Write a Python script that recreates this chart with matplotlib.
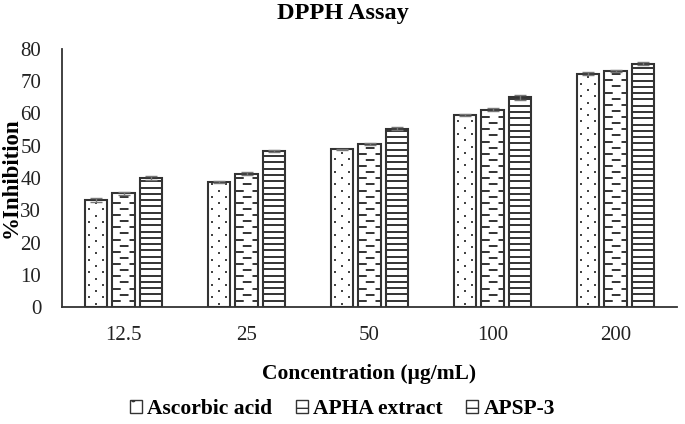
import numpy as np
import matplotlib.pyplot as plt
from matplotlib.patches import Patch

plt.rcParams['font.family'] = ['Liberation Serif', 'DejaVu Serif']
plt.rcParams['hatch.color'] = '#333333'
plt.rcParams['hatch.linewidth'] = 1.0

concentrations = ['12.5', '25', '50', '100', '200']
series = ['Ascorbic acid', 'APHA extract', 'APSP-3']
ascorbic = [33.2, 38.9, 48.9, 59.4, 72.4]
apha = [35.3, 41.3, 50.5, 61.2, 73.2]
apsp = [40.0, 48.3, 55.3, 65.0, 75.5]
ascorbic_err = [0.5, 0.3, 0.2, 0.3, 0.4]
apha_err = [0.5, 0.5, 0.4, 0.4, 0.3]
apsp_err = [0.5, 0.3, 0.4, 0.7, 0.6]

fig = plt.figure(figsize=(6.85, 4.24), dpi=100)
ax = fig.add_axes([62 / 685, 1 - 307 / 424, 615 / 685, 258 / 424])

x = np.arange(len(concentrations))
w = 0.18
pitch = 0.224
edge = '#333333'

b1 = ax.bar(x - pitch, ascorbic, w, color='white', edgecolor=edge, linewidth=1.5)
b2 = ax.bar(x, apha, w, color='white', edgecolor=edge, linewidth=1.5)
b3 = ax.bar(x + pitch, apsp, w, color='white', edgecolor=edge, linewidth=1.5)

# dotted fill (staggered rows)
for rect in b1:
    x0, bw, h = rect.get_x(), rect.get_width(), rect.get_height()
    ys = np.arange(1.0, h - 0.4, 1.95)
    for k, yy in enumerate(ys):
        if k % 2 == 0:
            xs = [x0 + bw * 0.5]
        else:
            xs = [x0 + bw * 0.2, x0 + bw * 0.8]
        ax.plot(xs, [yy] * len(xs), 's', ms=1.6, color='#444444', mew=0, zorder=3)

# dashed fill
for rect in b2:
    x0, bw, h = rect.get_x(), rect.get_width(), rect.get_height()
    ys = np.arange(1.9, h - 0.5, 1.9)
    for k, yy in enumerate(ys):
        off = 0 if k % 2 == 0 else 5
        ax.plot([x0, x0 + bw], [yy, yy], color=edge, lw=1.4,
                linestyle=(off, (4.5, 4.5)), solid_capstyle='butt', zorder=3)

# horizontal line fill
for rect in b3:
    x0, bw, h = rect.get_x(), rect.get_width(), rect.get_height()
    for yy in np.arange(1.95, h - 0.3, 1.95):
        ax.plot([x0, x0 + bw], [yy, yy], color=edge, lw=1.4, zorder=3)

for vals, errs, dx in [(ascorbic, ascorbic_err, -pitch), (apha, apha_err, 0), (apsp, apsp_err, pitch)]:
    ax.errorbar(x + dx, vals, yerr=errs, fmt='none', ecolor='#777777',
                elinewidth=1, capsize=4, capthick=1, zorder=4)

ax.set_xlim(-0.5, len(concentrations) - 0.5)
ax.set_ylim(0, 80)
ax.set_yticks(range(0, 81, 10))
ax.set_xticks(x)
ax.set_xticklabels(concentrations)
ax.tick_params(axis='both', length=0, labelsize=15, colors='#222222')
ax.tick_params(axis='x', pad=14)
ax.tick_params(axis='y', pad=15)
for s in ['top', 'right']:
    ax.spines[s].set_visible(False)
for s in ['left', 'bottom']:
    ax.spines[s].set_color('#333333')
    ax.spines[s].set_linewidth(1.3)

ax.set_xlabel('Concentration (μg/mL)', fontsize=15.5, fontweight='bold')
ax.xaxis.set_label_coords(0.5, (307 - 374) / 258)
ax.xaxis.label.set_va('center')
ax.set_ylabel('%Inhibition', fontsize=16.5, fontweight='bold')
ax.yaxis.set_label_coords((11 - 62) / 615, 0.5)
ax.yaxis.label.set_va('center')
fig.text(0.5, 1 - 14 / 424, 'DPPH Assay', ha='center', va='center', fontsize=17.5, fontweight='bold')

handles = [Patch(facecolor='white', edgecolor=edge, hatch='.', label=series[0]),
           Patch(facecolor='white', edgecolor=edge, hatch='-', label=series[1]),
           Patch(facecolor='white', edgecolor=edge, hatch='-', label=series[2])]
fig.legend(handles=handles, loc='center', bbox_to_anchor=(0.5, 1 - 409 / 424), ncol=3,
           frameon=False, prop={'weight': 'bold', 'size': 15.5}, handlelength=0.55,
           handleheight=0.55, handletextpad=0.25, columnspacing=1.1)

fig.savefig('out.png', dpi=100)
